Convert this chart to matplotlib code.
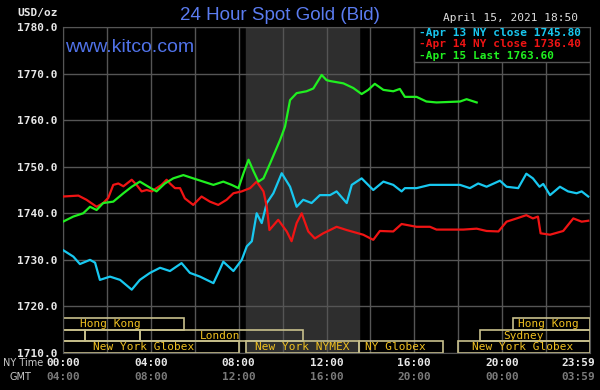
import matplotlib
matplotlib.use('Agg')
import matplotlib.pyplot as plt
from matplotlib.patches import Rectangle

# hours (NY time) and prices
apr13_h = [0.0, 0.47, 0.77, 1.23, 1.46, 1.68, 2.14, 2.6, 3.13, 3.5, 3.96, 4.42, 4.87, 5.4,
           5.78, 6.24, 6.85, 7.07, 7.3, 7.76, 8.14, 8.37, 8.6, 8.82, 9.05, 9.28, 9.58, 9.96,
           10.34, 10.64, 10.94, 11.32, 11.7, 12.16, 12.46, 12.92, 13.15, 13.6, 14.13, 14.59,
           15.04, 15.42, 15.57, 16.1, 16.71, 17.47, 18.08, 18.53, 18.91, 19.29, 19.9, 20.2,
           20.73, 21.1, 21.4, 21.7, 21.87, 22.18, 22.63, 23.0, 23.39, 23.62, 23.92]
apr13_v = [1732.1, 1730.7, 1729.1, 1730.0, 1729.4, 1725.7, 1726.4, 1725.7, 1723.6, 1725.7,
           1727.2, 1728.3, 1727.6, 1729.3, 1727.2, 1726.4, 1725.0, 1727.2, 1729.6, 1727.6,
           1730.0, 1732.9, 1734.0, 1740.0, 1737.9, 1742.2, 1744.3, 1748.6, 1745.7, 1741.4,
           1742.9, 1742.2, 1743.9, 1743.9, 1744.7, 1742.2, 1746.1, 1747.5, 1745.0, 1746.8,
           1746.1, 1744.7, 1745.4, 1745.4, 1746.1, 1746.1, 1746.1, 1745.4, 1746.4, 1745.7,
           1747.0, 1745.7, 1745.4, 1748.5, 1747.5, 1745.7, 1746.3, 1743.9, 1745.7, 1744.7,
           1744.3, 1744.7, 1743.6]

apr14_h = [0.0, 0.7, 1.07, 1.53, 1.83, 2.06, 2.29, 2.52, 2.75, 3.13, 3.35, 3.58, 3.81, 4.04,
           4.26, 4.49, 4.72, 4.87, 5.1, 5.33, 5.55, 5.93, 6.31, 6.69, 7.07, 7.45, 7.76, 8.14,
           8.52, 8.82, 9.13, 9.28, 9.4, 9.8, 10.19, 10.41, 10.64, 10.87, 11.17, 11.47, 11.85,
           12.16, 12.46, 12.92, 13.67, 14.13, 14.43, 15.04, 15.42, 16.1, 16.71, 17.01, 18.23,
           18.84, 19.29, 19.83, 20.2, 20.66, 21.1, 21.4, 21.63, 21.75, 22.18, 22.78, 23.24,
           23.62, 23.92]
apr14_v = [1743.6, 1743.8, 1742.9, 1741.4, 1742.2, 1743.3, 1746.1, 1746.4, 1745.8, 1747.2,
           1746.1, 1744.7, 1745.0, 1744.7, 1745.4, 1746.1, 1747.2, 1746.4, 1745.4, 1745.4,
           1743.2, 1741.8, 1743.6, 1742.5, 1741.8, 1742.9, 1744.3, 1744.7, 1745.4, 1746.8,
           1744.7, 1741.4, 1736.4, 1738.6, 1736.1, 1734.0, 1737.9, 1740.0, 1736.1, 1734.6,
           1735.7, 1736.4, 1737.1, 1736.4, 1735.4, 1734.3, 1736.2, 1736.1, 1737.7, 1737.1,
           1737.1, 1736.5, 1736.5, 1736.7, 1736.2, 1736.1, 1738.2, 1738.9, 1739.6, 1738.9,
           1739.3, 1735.7, 1735.4, 1736.2, 1738.9, 1738.2, 1738.4]

apr15_h = [0.0, 0.47, 0.92, 1.23, 1.53, 1.83, 2.29, 2.75, 3.13, 3.5, 3.89, 4.26, 4.64, 5.02,
           5.48, 5.93, 6.39, 6.85, 7.3, 7.68, 7.99, 8.22, 8.45, 8.67, 8.9, 9.13, 9.43, 9.89,
           10.11, 10.34, 10.64, 11.09, 11.4, 11.78, 12.0, 12.16, 12.77, 13.22, 13.6, 13.9,
           14.2, 14.59, 15.04, 15.34, 15.57, 16.1, 16.55, 17.01, 18.08, 18.38, 18.84]
apr15_v = [1738.2, 1739.3, 1740.0, 1741.4, 1740.7, 1742.2, 1742.5, 1744.3, 1745.7, 1746.8,
           1745.7, 1744.7, 1746.4, 1747.5, 1748.2, 1747.5, 1746.8, 1746.1, 1746.8, 1746.1,
           1745.4, 1748.6, 1751.5, 1749.1, 1746.8, 1747.5, 1750.7, 1755.8, 1758.6, 1764.3,
           1765.8, 1766.2, 1766.8, 1769.7, 1768.6, 1768.4, 1767.9, 1766.9, 1765.6, 1766.5,
           1767.8, 1766.5, 1766.2, 1766.7, 1765.0, 1765.0, 1764.0, 1763.8, 1764.0, 1764.5,
           1763.8]

legend_lines = ["-Apr 13 NY close 1745.80", "-Apr 14 NY close 1736.40", "-Apr 15 Last 1763.60"]

# market sessions: (start hour, end hour, row, label, label centre hour)
sessions = [
    (0.0, 5.5, 0, "Hong Kong", 2.15),
    (20.5, 24.0, 0, "Hong Kong", 22.1),
    (0.0, 1.0, 1, "", 0),
    (1.0, 3.5, 1, "", 0),
    (3.5, 10.95, 1, "London", 7.15),
    (19.0, 24.0, 1, "Sydney", 20.95),
    (0.0, 8.0, 2, "New York Globex", 3.65),
    (8.33, 13.5, 2, "New York NYMEX", 10.9),
    (13.5, 17.3, 2, "NY Globex", 15.15),
    (18.0, 24.0, 2, "New York Globex", 20.95),
]

ny_ticks = [0, 4, 8, 12, 16, 20, 23.45]
ny_labels = ["00:00", "04:00", "08:00", "12:00", "16:00", "20:00", "23:59"]
gmt_labels = ["04:00", "08:00", "12:00", "16:00", "20:00", "00:00", "03:59"]

mono = 'DejaVu Sans Mono'
grid_c = '#555555'

fig = plt.figure(figsize=(6, 3.9), dpi=100, facecolor='black')
ax = fig.add_axes([63 / 600, 37 / 390, 527 / 600, 326 / 390])
ax.set_facecolor('black')
ax.set_xlim(0, 24)
ax.set_ylim(1710, 1780)

# NYMEX trading hours shading
ax.axvspan(8.33, 13.5, color='#2e2e2e', zorder=0)

ax.set_xticks(range(0, 25, 2))
ax.set_yticks(range(1710, 1781, 10))
ax.set_yticklabels(["%.1f" % v for v in range(1710, 1781, 10)])
ax.tick_params(axis='x', length=0, labelbottom=False)
ax.tick_params(axis='y', length=0, pad=4, labelcolor='#e8e8e8', labelsize=8)
for lab in ax.get_yticklabels():
    lab.set_family(mono)
    lab.set_fontweight('bold')
ax.grid(True, color=grid_c, lw=1)
for s in ax.spines.values():
    s.set_color(grid_c)

# sessions
row_y = [1715, 1712.5, 1710]
for start, end, row, label, cx in sessions:
    ax.add_patch(Rectangle((start, row_y[row]), end - start, 2.5, fill=False,
                           edgecolor='#c8c08c', lw=1.2, zorder=2))
    if label:
        ax.text(cx, row_y[row] + 1.25, label, ha='center', va='center',
                color='#f0c020', fontsize=8, family=mono, zorder=3)

ax.plot(apr13_h, apr13_v, color='#18c8f0', lw=1.6, zorder=4)
ax.plot(apr14_h, apr14_v, color='#f01414', lw=1.6, zorder=4)
ax.plot(apr15_h, apr15_v, color='#20f020', lw=1.6, zorder=5)

# legend box
ax.add_patch(Rectangle((16.0, 1772.5), 8.0, 7.5, facecolor='black', edgecolor=grid_c,
                       lw=1, zorder=6))
for txt, col, yv in zip(legend_lines, ['#18c8f0', '#f01414', '#20f020'],
                        [1778.8, 1776.3, 1773.8]):
    ax.text(16.2, yv, txt, color=col, fontsize=8, family=mono, va='center',
            fontweight='bold', zorder=7)

# time axis labels
for h, a, b in zip(ny_ticks, ny_labels, gmt_labels):
    ax.text(h, -0.031, a, transform=ax.get_xaxis_transform(), ha='center', va='center',
            color='#e8e8e8', fontsize=8, family=mono, fontweight='bold')
    ax.text(h, -0.074, b, transform=ax.get_xaxis_transform(), ha='center', va='center',
            color='#7a7a7a', fontsize=8, family=mono, fontweight='bold')
fig.text(3 / 600, 1 - 363 / 390, "NY Time", color='#c8c8c8', fontsize=7, family='DejaVu Sans',
         va='center')
fig.text(10 / 600, 1 - 377 / 390, "GMT", color='#c8c8c8', fontsize=7, family='DejaVu Sans',
         va='center')

fig.text(58 / 600, 1 - 13 / 390, "USD/oz", color='#e8e8e8', fontsize=8, family=mono,
         ha='right', va='center', fontweight='bold')
fig.text(280 / 600, 1 - 15 / 390, "24 Hour Spot Gold (Bid)", color='#5b7cf0',
         fontsize=13.5, family='Liberation Sans', ha='center', va='center')
fig.text(65 / 600, 1 - 47 / 390, "www.kitco.com", color='#5072e8', fontsize=14,
         family='Liberation Sans', ha='left', va='center')
fig.text(578 / 600, 1 - 18 / 390, "April 15, 2021 18:50", color='#e0e0e0', fontsize=8,
         family=mono, ha='right', va='center')

fig.savefig('out.png', dpi=100, facecolor='black')
